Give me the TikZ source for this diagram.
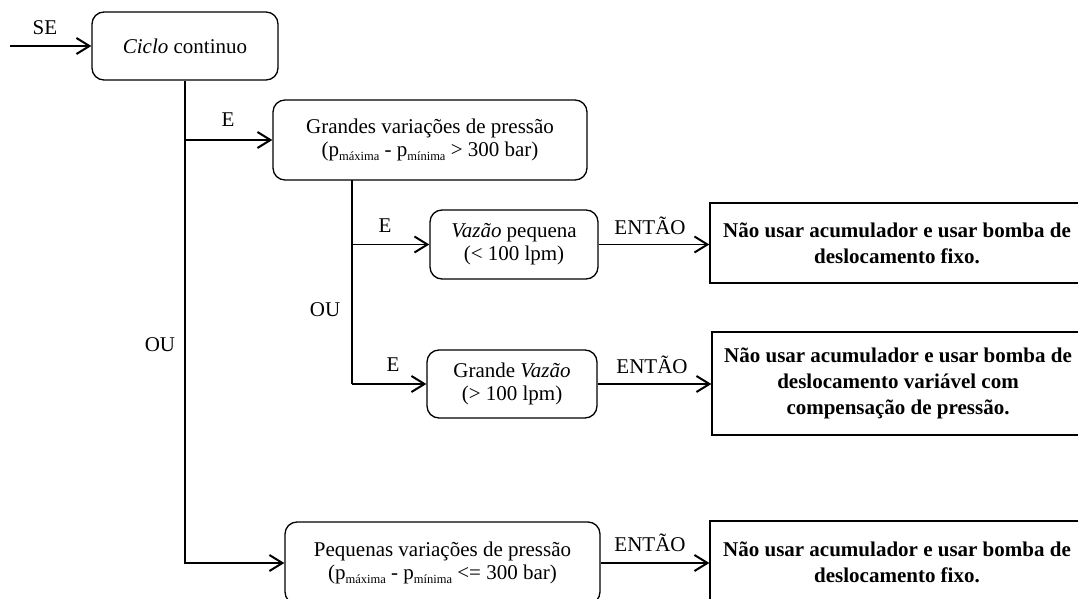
\documentclass[tikz,border=0pt]{standalone}
\usepackage{fontspec}
\setmainfont{Liberation Serif}
\usetikzlibrary{arrows.meta,calc}
\newcommand{\subt}[1]{\raisebox{-0.18em}{\fontsize{12.5}{12}\selectfont #1}}
\begin{document}
\begin{tikzpicture}[x=1pt,y=-1pt,
  rbox/.style={draw, line width=1.3pt, rounded corners=12pt, align=center, inner sep=0pt,
    font=\fontsize{21}{23}\selectfont},
  sbox/.style={draw, line width=1.3pt, align=center, inner sep=0pt,
    font=\fontsize{21}{26}\selectfont\bfseries},
  lbl/.style={font=\fontsize{21}{23}\selectfont, inner sep=0pt},
  conn/.style={line width=1.3pt},
  arr/.style={line width=1.3pt, -{Straight Barb[length=13pt,width=16pt,line width=2pt]}}]
\clip (0,0) rectangle (1078,599);
\fill[white] (0,0) rectangle (1078,599);

\node[rbox, minimum width=186pt, minimum height=68pt] (ciclo) at (185,46) {\textit{Ciclo} continuo};
\node[rbox, minimum width=314pt, minimum height=80pt] (grandes) at (430,140)
  {Grandes variações de pressão\\(p\subt{máxima} - p\subt{mínima} > 300 bar)};
\node[rbox, minimum width=168pt, minimum height=69pt] (vp) at (514,244.5)
  {\textit{Vazão} pequena\\(< 100 lpm)};
\node[rbox, minimum width=170pt, minimum height=68pt] (gv) at (512,384)
  {Grande \textit{Vazão}\\(> 100 lpm)};
\node[rbox, minimum width=315pt, minimum height=82pt] (peq) at (442.5,563)
  {Pequenas variações de pressão\\(p\subt{máxima} - p\subt{mínima} <= 300 bar)};

\node[sbox, minimum width=374pt, minimum height=80pt] (r1) at (897,243)
  {Não usar acumulador e usar bomba de\\deslocamento fixo.};
\node[sbox, minimum width=372pt, minimum height=103pt] (r2) at (898,383.5)
  {Não usar acumulador e usar bomba de\\deslocamento variável com\\compensação de pressão.};
\node[sbox, minimum width=374pt, minimum height=82pt] (r3) at (897,562)
  {Não usar acumulador e usar bomba de\\deslocamento fixo.};

\coordinate (start) at (10,46);
\coordinate (g1) at (352,180);

\draw[arr] (start) -- (ciclo.west);
\draw[arr] (ciclo.south) |- (peq.west);
\draw[arr] (ciclo.south |- grandes.west) -- (grandes.west);
\draw[conn] (g1) -- (g1 |- gv.west);
\draw[arr] (g1 |- vp.west) -- (vp.west);
\draw[arr] (g1 |- gv.west) -- (gv.west);
\draw[arr] (vp.east) -- (vp.east -| r1.west);
\draw[arr] (gv.east) -- (gv.east -| r2.west);
\draw[arr] (peq.east) -- (peq.east -| r3.west);

\node[lbl] (se) at (45,28) {SE};
\node[lbl] (e1) at (228,120) {E};
\node[lbl] (e2) at (385,226) {E};
\node[lbl] (e3) at (393,365) {E};
\node[lbl] (ou1) at (325,310) {OU};
\node[lbl] (ou2) at (160,345) {OU};
\node[lbl] (t1) at (650,226) {ENTÃO};
\node[lbl] (t2) at (652,365) {ENTÃO};
\node[lbl] (t3) at (650,543) {ENTÃO};
\end{tikzpicture}
\end{document}
